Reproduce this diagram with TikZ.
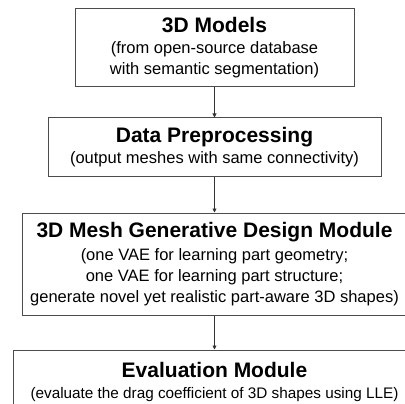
\documentclass[tikz,border=0pt]{standalone}
\usepackage{fontspec}
\setmainfont{Liberation Sans}
\usetikzlibrary{arrows.meta}
\tikzset{
  stagebox/.style={draw=black!70, line width=1pt, align=center, inner sep=0pt,
    font=\fontsize{16.5}{21}\selectfont},
}
\newcommand{\stagetitle}[1]{{\fontsize{21}{24}\selectfont\bfseries #1}}

\begin{document}
\begin{tikzpicture}[x=1pt,y=-1pt,>={Triangle[length=4pt,width=4pt]}]
        \useasboundingbox (0,0) rectangle (405,404);
        \node[stagebox, minimum width=279pt, minimum height=78pt](models) at (214.5,48)
            {\stagetitle{3D Models}\\ (from open-source database\\ with semantic segmentation)};
        \node[stagebox, minimum width=333pt, minimum height=59pt](prep) at (214.5,147.5)
            {\stagetitle{Data Preprocessing}\\ (output meshes with same connectivity)};
        \node[stagebox, minimum width=385pt, minimum height=102pt](gen) at (214.5,264)
            {\stagetitle{3D Mesh Generative Design Module}\\[2pt] (one VAE for learning part geometry;\\ one VAE for learning part structure;\\ generate novel yet realistic part-aware 3D shapes)};
        \node[stagebox, minimum width=403pt, minimum height=64pt](eval) at (214.5,382)
            {\stagetitle{Evaluation Module}\\ {\fontsize{15.3}{21}\selectfont (evaluate the drag coefficient of 3D shapes using LLE)}};
        \draw[->, black!80, line width=0.8pt](models) -- (prep);
        \draw[->, black!80, line width=0.8pt](prep) -- (gen);
        \draw[->, black!80, line width=0.8pt](gen) -- (eval);
    \end{tikzpicture}
\end{document}
